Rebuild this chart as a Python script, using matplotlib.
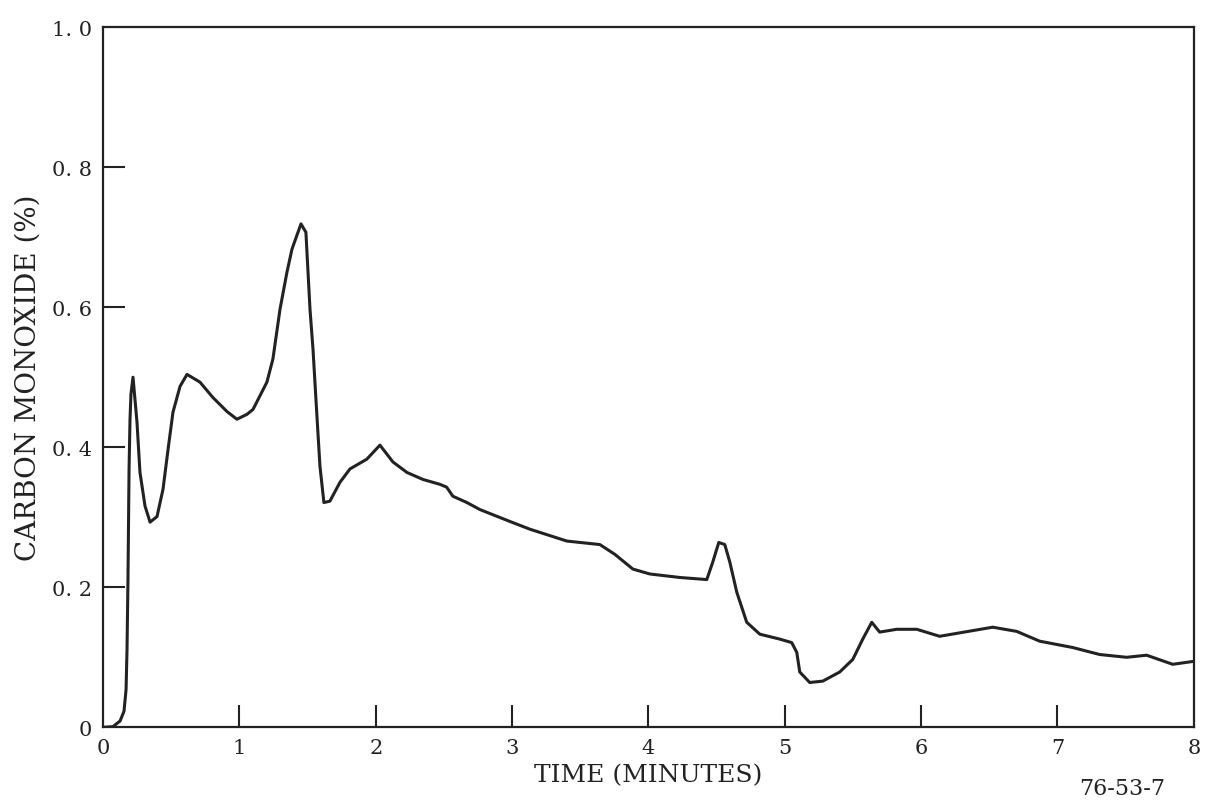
import numpy as np
import matplotlib
matplotlib.use("Agg")
import matplotlib.pyplot as plt

# values
time_min = [0.0, 0.073, 0.125, 0.154, 0.169, 0.176, 0.183, 0.191, 0.198, 0.205,
            0.220, 0.249, 0.271, 0.308, 0.345, 0.396, 0.440, 0.477, 0.513, 0.565,
            0.616, 0.711, 0.806, 0.909, 0.982, 1.056, 1.100, 1.202, 1.246, 1.298,
            1.349, 1.386, 1.452, 1.488, 1.518, 1.540, 1.569, 1.591, 1.620, 1.664,
            1.738, 1.811, 1.935, 2.031, 2.126, 2.229, 2.346, 2.471, 2.520, 2.566,
            2.669, 2.764, 2.984, 3.130, 3.402, 3.644, 3.754, 3.886, 4.010, 4.230,
            4.428, 4.472, 4.516, 4.560, 4.597, 4.648, 4.721, 4.817, 4.963, 5.051,
            5.088, 5.110, 5.183, 5.279, 5.403, 5.499, 5.572, 5.638, 5.696, 5.821,
            5.968, 6.136, 6.525, 6.701, 6.870, 7.111, 7.309, 7.507, 7.654, 7.845,
            7.991]
co_pct = [0.0, 0.001, 0.009, 0.023, 0.054, 0.111, 0.211, 0.369, 0.440, 0.476,
          0.500, 0.436, 0.364, 0.316, 0.293, 0.301, 0.340, 0.397, 0.450, 0.487,
          0.504, 0.493, 0.471, 0.451, 0.440, 0.447, 0.454, 0.493, 0.526, 0.597,
          0.650, 0.683, 0.719, 0.707, 0.597, 0.540, 0.444, 0.373, 0.321, 0.323,
          0.350, 0.369, 0.383, 0.403, 0.379, 0.364, 0.354, 0.347, 0.343, 0.330,
          0.321, 0.311, 0.294, 0.283, 0.266, 0.261, 0.247, 0.226, 0.219, 0.214,
          0.211, 0.236, 0.264, 0.261, 0.236, 0.193, 0.150, 0.133, 0.126, 0.121,
          0.107, 0.079, 0.064, 0.066, 0.079, 0.097, 0.126, 0.150, 0.136, 0.140,
          0.140, 0.130, 0.143, 0.137, 0.123, 0.114, 0.104, 0.100, 0.103, 0.090,
          0.094]

x_ticks = [0, 1, 2, 3, 4, 5, 6, 7, 8]
x_labels = ["0", "1", "2", "3", "4", "5", "6", "7", "8"]
y_ticks = [0, 0.2, 0.4, 0.6, 0.8, 1.0]
y_labels = ["0", "0. 2", "0. 4", "0. 6", "0. 8", "1. 0"]

plt.rcParams['font.family'] = ['DejaVu Serif']
ink = "#222222"

fig = plt.figure(figsize=(12.12, 8.03), dpi=100)
ax = fig.add_axes([0.085, 0.093, 0.900, 0.872])
ax.plot(time_min, co_pct, color=ink, lw=2.2, solid_joinstyle="round",
        solid_capstyle="round")

ax.set_xlim(0, 8)
ax.set_ylim(0, 1.0)
ax.set_xticks(x_ticks)
ax.set_xticklabels(x_labels)
ax.set_yticks(y_ticks)
ax.set_yticklabels(y_labels)
ax.tick_params(direction="in", length=16, width=1.5, color=ink,
               labelsize=15, labelcolor=ink, pad=8)
for t in (ax.xaxis.get_major_ticks()[0], ax.xaxis.get_major_ticks()[-1],
          ax.yaxis.get_major_ticks()[0], ax.yaxis.get_major_ticks()[-1]):
    t.tick1line.set_visible(False)
for s in ax.spines.values():
    s.set_linewidth(1.6)
    s.set_color(ink)

ax.set_xlabel("TIME (MINUTES)", fontsize=18, color=ink, labelpad=4)
ax.set_ylabel("CARBON MONOXIDE (%)", fontsize=20, color=ink, labelpad=7)
fig.text(0.926, 0.010, "76-53-7", fontsize=16, color=ink, ha="center",
         va="baseline")

fig.savefig("out.png", dpi=100)
